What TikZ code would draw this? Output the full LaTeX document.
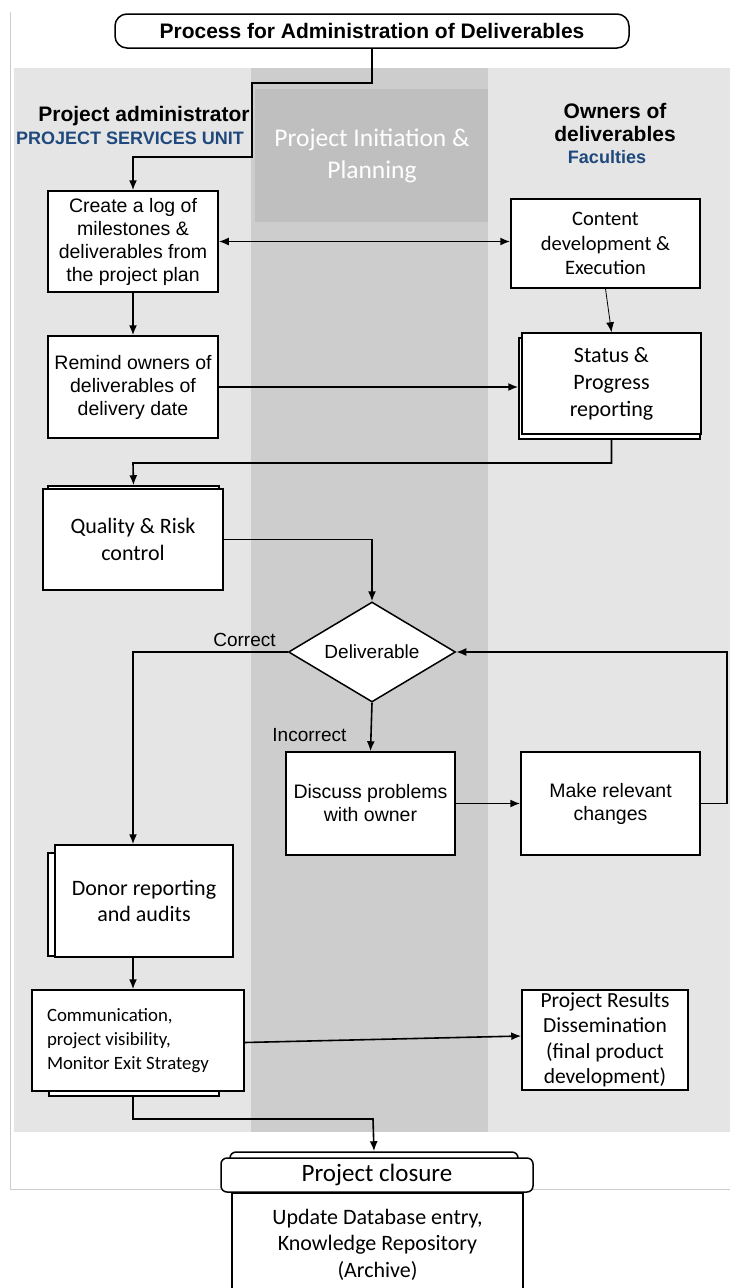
\documentclass[tikz,border=0pt]{standalone}
\usepackage{fontspec}
\setmainfont{Liberation Sans}
\newfontfamily\calibri{Carlito}
\usetikzlibrary{arrows.meta,shapes.geometric,positioning,calc}
\definecolor{bglight}{RGB}{229,229,229}
\definecolor{bgband}{RGB}{205,205,205}
\definecolor{bgdark}{RGB}{191,191,191}
\definecolor{framegray}{RGB}{205,205,205}
\definecolor{unitblue}{RGB}{31,73,125}
\begin{document}
\begin{tikzpicture}[x=1pt,y=-1pt,
    box/.style={draw,fill=white,line width=1.5pt,align=center,inner sep=0pt,font=\fontsize{19.5}{23}\selectfont},
    cbox/.style={box,font=\calibri\fontsize{22}{27}\selectfont},
    backbox/.style={draw,fill=white,line width=1.5pt,inner sep=0pt},
    arr/.style={line width=1.6pt,-{Latex[length=10pt,width=8pt]}},
    lbl/.style={font=\fontsize{19}{20}\selectfont}]
    \fill[white] (0,0) rectangle (730,1288);
    \useasboundingbox (0,0) rectangle (730,1288);
    \fill[bglight] (14,68) rectangle (730,1132);
    \fill[bgband] (251,68) rectangle (488,1132);
    \fill[bgdark] (255,89) rectangle (488,222);
    \draw[framegray, line width=1pt] (10,12) -- (10,1189) -- (730,1189);
    \node[align=center, text=white, font=\calibri\fontsize{25.5}{32}\selectfont] (phase) at (372,156) {Project Initiation \&\\Planning};
    \node[font=\bfseries\fontsize{21}{22}\selectfont] (admin) at (144,116) {Project administrator};
    \node[text=unitblue, font=\bfseries\fontsize{18}{20}\selectfont] (unit) at (130,138) {PROJECT SERVICES UNIT};
    \node[align=center, font=\bfseries\fontsize{21}{23}\selectfont] (owners) at (615,122) {Owners of\\deliverables};
    \node[text=unitblue, font=\bfseries\fontsize{18}{20}\selectfont] (fac) at (607,157) {Faculties};

    \node[draw, fill=white, line width=1.5pt, rounded corners=12pt, minimum width=514pt, minimum height=34pt, inner sep=0pt, font=\bfseries\fontsize{21}{22}\selectfont] (title) at (372,31) {Process for Administration of Deliverables};

    \node[box, minimum width=170pt, minimum height=101pt] (create) at (133,241.5) {Create a log of\\milestones \&\\deliverables from\\the project plan};
    \node[cbox, font=\calibri\fontsize{20.5}{24.5}\selectfont, minimum width=189pt, minimum height=89pt] (content) at (605.5,243.5) {Content\\development \&\\Execution};
    \node[box, minimum width=170pt, minimum height=102pt] (remind) at (133,387) {Remind owners of\\deliverables of\\delivery date};
    \node[backbox, minimum width=181pt, minimum height=101pt] (statusback) at (609.5,388.5) {};
    \node[cbox, minimum width=179pt, minimum height=101pt] (status) at (611.5,383.5) {Status \&\\Progress\\reporting};
    \node[backbox, minimum width=171pt, minimum height=102pt] (qualityback) at (133.5,537) {};
    \node[cbox, minimum width=180pt, minimum height=101pt] (quality) at (133,539.5) {Quality \& Risk\\control};
    \node[draw, diamond, aspect=1.67, fill=white, line width=1.5pt, inner sep=0pt, minimum width=167pt, minimum height=100pt, font=\fontsize{19}{22}\selectfont] (deliv) at (372,652) {Deliverable};
    \node[box, minimum width=169pt, minimum height=103pt] (discuss) at (370.5,803.5) {Discuss problems\\with owner};
    \node[box, minimum width=179pt, minimum height=103pt] (changes) at (610.5,803.5) {Make relevant\\changes};
    \node[backbox, minimum width=170pt, minimum height=103pt] (donorback) at (133,904.5) {};
    \node[cbox, font=\calibri\fontsize{22}{26}\selectfont, minimum width=178pt, minimum height=112pt] (donor) at (144,901) {Donor reporting\\and audits};
    \node[backbox, minimum width=170pt, minimum height=102pt] (commback) at (134,1045) {};
    \node[cbox, font=\calibri\fontsize{18.8}{24}\selectfont, align=flush left, text width=182pt, minimum width=212pt, minimum height=101pt] (comm) at (138,1040.5) {Communication,\\project visibility,\\Monitor Exit Strategy};
    \node[cbox, font=\calibri\fontsize{21.5}{25.5}\selectfont, minimum width=166pt, minimum height=100pt] (results) at (605,1040) {Project Results\\Dissemination\\(final product\\development)};
    \node[draw, fill=white, line width=1.5pt, rounded corners=6pt, minimum width=288pt, minimum height=34pt] (closureback) at (374,1169) {};
    \node[cbox, font=\calibri\fontsize{22}{26.5}\selectfont, minimum width=291pt, minimum height=104pt, anchor=north] (archive) at (377.5,1192) {Update Database entry,\\Knowledge Repository\\(Archive)};
    \node[cbox, rounded corners=6pt, font=\calibri\fontsize{25}{26}\selectfont, minimum width=312pt, minimum height=34pt] (closure) at (377,1175) {Project closure};

    \draw[arr] (title.south) |- (252,83) |- (133,157) -- (create.north);
    \draw[arr, {Latex[length=10pt,width=8pt]}-{Latex[length=10pt,width=8pt]}] (create.east) -- (create.east -| content.west);
    \draw[line width=0.8pt, -{Latex[length=10pt,width=8pt]}] (content.south) -- (status.north);
    \draw[arr] (create.south) -- (remind.north);
    \draw[arr] (remind.east) -- (remind.east -| statusback.west);
    \draw[arr] (status.south |- statusback.south) |- (133,463) -- (qualityback.north);
    \draw[arr] (quality.east) -| (deliv.north);
    \draw[arr] (deliv.west) node[lbl, anchor=south east, xshift=-8pt, yshift=1pt] {Correct} -| (create.south |- donor.north);
    \draw[arr] (deliv.south) -- (discuss.north) node[lbl, pos=1, anchor=south east, xshift=-20pt, yshift=5pt] {Incorrect};
    \draw[arr] (discuss.east) -- (changes.west);
    \draw[arr] (changes.east) -- ++(26,0) |- (deliv.east);
    \draw[arr] (create.south |- donor.south) -- (create.south |- comm.north);
    \draw[arr] ([yshift=-2pt]comm.east) -- ([yshift=4pt]results.west);
    \draw[arr] (create.south |- commback.south) |- (373,1119) -- (closureback.north);
\end{tikzpicture}
\end{document}
